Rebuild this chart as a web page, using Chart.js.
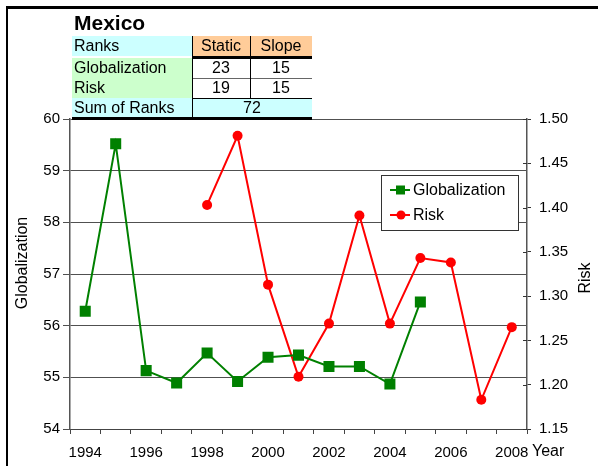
<!DOCTYPE html>
<html>
<head>
<meta charset="utf-8">
<script src="https://cdn.jsdelivr.net/npm/chart.js@4/dist/chart.umd.min.js"></script>
<style>
  html, body { margin: 0; padding: 0; background: #fff; }
  #wrap { position: relative; width: 598px; height: 466px; overflow: hidden; background: #fff;
          font-family: "Liberation Sans", Arial, sans-serif; }
  #c { position: absolute; left: 0; top: 0; }
  .cell { position: absolute; box-sizing: border-box; font-size: 16px; line-height: 20px; color: #000; white-space: nowrap; }
  .lbl { padding-left: 2px; }
  .num { text-align: center; }
  .line { position: absolute; background: #000; }
</style>
</head>
<body>
<div id="wrap">
  <canvas id="c" width="598" height="466"></canvas>
</div>
<script>
// ---- data ----
const country = 'Mexico';
const years = ['1994','1995','1996','1997','1998','1999','2000','2001','2002','2003','2004','2005','2006','2007','2008'];
const globalization = [56.28, 59.52, 55.13, 54.89, 55.47, 54.92, 55.39, 55.43, 55.21, 55.21, 54.87, 56.46, null, null, null];
const risk = [null, null, null, null, 1.403, 1.481, 1.313, 1.209, 1.269, 1.391, 1.269, 1.343, 1.338, 1.183, 1.265];
const leftTicks = [54, 55, 56, 57, 58, 59, 60];
const rightTicks = [1.15, 1.20, 1.25, 1.30, 1.35, 1.40, 1.45, 1.50];

// rank table
const rankHeader = ['Ranks', 'Static', 'Slope'];
const rankRows = [['Globalization', 23, 15], ['Risk', 19, 15]];
const sumLabel = 'Sum of Ranks';
const sumOfRanks = 72;

// ---- rank table and frame (HTML) ----
const wrap = document.getElementById('wrap');
function addCell(text, x, y, w, h, bg, cls, extra) {
  const d = document.createElement('div');
  d.className = 'cell ' + cls;
  d.style.left = x + 'px'; d.style.top = y + 'px';
  d.style.width = w + 'px'; d.style.height = h + 'px';
  d.style.background = bg;
  if (extra) Object.assign(d.style, extra);
  d.textContent = text;
  wrap.appendChild(d);
  return d;
}
function addLine(x, y, w, h, color) {
  const d = document.createElement('div');
  d.className = 'line';
  d.style.left = x + 'px'; d.style.top = y + 'px';
  d.style.width = w + 'px'; d.style.height = h + 'px';
  if (color) d.style.background = color;
  wrap.appendChild(d);
}
// outer frame
addLine(6, 6, 592, 3);
addLine(6, 6, 2, 460);

// title
addCell(country, 74, 10, 120, 26, 'transparent', '', { fontWeight: 'bold', fontSize: '21px', lineHeight: '26px' });

const colX = [72, 192, 250, 312];
const rowY = [36, 58, 78, 98, 118];
const cyan = '#ccffff', orange = '#ffcc99', green = '#ccffcc';
// header row
addCell(rankHeader[0], colX[0], rowY[0], colX[1] - colX[0], 20, cyan, 'lbl');
addCell(rankHeader[1], colX[1], rowY[0], colX[2] - colX[1], 20, orange, 'num');
addCell(rankHeader[2], colX[2], rowY[0], colX[3] - colX[2], 20, orange, 'num');
// value rows
rankRows.forEach((r, i) => {
  const y = rowY[i + 1], h = rowY[i + 2] - rowY[i + 1];
  addCell(r[0], colX[0], y, colX[1] - colX[0], h, green, 'lbl');
  addCell(String(r[1]), colX[1], y, colX[2] - colX[1], h, '#fff', 'num');
  addCell(String(r[2]), colX[2], y, colX[3] - colX[2], h, '#fff', 'num');
});
// sum row
addCell(sumLabel, colX[0], rowY[3], colX[1] - colX[0], rowY[4] - rowY[3], cyan, 'lbl');
addCell(String(sumOfRanks), colX[1], rowY[3], colX[3] - colX[1], rowY[4] - rowY[3], cyan, 'num');
// table rules
addLine(colX[1], rowY[1] - 2, colX[3] - colX[1], 3);          // under header
addLine(colX[1], rowY[2], colX[3] - colX[1], 1, '#666');       // between value rows
addLine(colX[1], rowY[3], colX[3] - colX[1], 1);               // above sum row
addLine(colX[1], rowY[0], 1, rowY[4] - rowY[0]);               // left of Static
addLine(colX[2], rowY[0], 1, rowY[3] - rowY[0]);               // between Static and Slope
addLine(colX[0], rowY[4] - 1, colX[3] - colX[0], 3);           // bottom of table

// ---- chart ----
const FONT = '"Liberation Sans", Arial, sans-serif';
Chart.defaults.font.family = FONT;
Chart.defaults.font.size = 15;
Chart.defaults.color = '#000';

const decor = {
  id: 'decor',
  afterDraw(chart) {
    const ctx = chart.ctx;
    const area = chart.chartArea;
    const y1 = chart.scales.y1;
    ctx.save();
    // inner half of the right-axis tick marks
    ctx.strokeStyle = '#333';
    ctx.lineWidth = 1;
    y1.ticks.forEach(t => {
      const py = Math.round(y1.getPixelForValue(t.value)) + 0.5;
      ctx.beginPath();
      ctx.moveTo(area.right - 4, py);
      ctx.lineTo(area.right, py);
      ctx.stroke();
    });

    // axis titles
    ctx.fillStyle = '#000';
    ctx.font = '16px ' + FONT;
    ctx.textAlign = 'center';
    ctx.textBaseline = 'middle';
    ctx.save();
    ctx.translate(23, 263);
    ctx.rotate(-Math.PI / 2);
    ctx.fillText(chart.options.scales.y.title.text, 0, 0);
    ctx.restore();
    ctx.save();
    ctx.translate(586, 278);
    ctx.rotate(-Math.PI / 2);
    ctx.fillText(chart.options.scales.y1.title.text, 0, 0);
    ctx.restore();
    ctx.textAlign = 'left';
    ctx.fillText(chart.options.scales.x.title.text, 532, 452);

    // legend box
    const bx = 381, by = 175, bw = 137, bh = 55;
    ctx.fillStyle = '#fff';
    ctx.fillRect(bx, by, bw, bh);
    ctx.strokeStyle = '#333';
    ctx.strokeRect(bx + 0.5, by + 0.5, bw, bh);
    chart.data.datasets.forEach((ds, i) => {
      const cy = 190 + i * 25;
      ctx.strokeStyle = ds.borderColor;
      ctx.lineWidth = 2;
      ctx.beginPath();
      ctx.moveTo(390, cy);
      ctx.lineTo(410, cy);
      ctx.stroke();
      ctx.fillStyle = ds.pointBackgroundColor;
      if (ds.pointStyle === 'rect') {
        ctx.fillRect(396, cy - 4.5, 9, 9);
      } else {
        ctx.beginPath();
        ctx.arc(401, cy, 4.5, 0, Math.PI * 2);
        ctx.fill();
      }
      ctx.fillStyle = '#000';
      ctx.font = '16px ' + FONT;
      ctx.textAlign = 'left';
      ctx.fillText(ds.label, 413, cy + 1);
    });
    ctx.restore();
  }
};

new Chart(document.getElementById('c'), {
  type: 'line',
  data: {
    labels: years,
    datasets: [
      {
        label: 'Globalization',
        data: globalization,
        yAxisID: 'y',
        borderColor: '#008000',
        backgroundColor: '#008000',
        pointBackgroundColor: '#008000',
        pointBorderColor: '#008000',
        pointStyle: 'rect',
        pointRadius: 7.8,
        pointBorderWidth: 0,
        borderWidth: 2,
        tension: 0,
        spanGaps: false
      },
      {
        label: 'Risk',
        data: risk,
        yAxisID: 'y1',
        borderColor: '#ff0000',
        backgroundColor: '#ff0000',
        pointBackgroundColor: '#ff0000',
        pointBorderColor: '#ff0000',
        pointStyle: 'circle',
        pointRadius: 5,
        pointBorderWidth: 0,
        borderWidth: 2,
        tension: 0,
        spanGaps: false
      }
    ]
  },
  options: {
    responsive: false,
    animation: false,
    events: [],
    layout: { padding: { top: 119, left: 0, right: 0, bottom: 0 } },
    plugins: { legend: { display: false }, tooltip: { enabled: false } },
    scales: {
      x: {
        type: 'category',
        offset: true,
        title: { display: false, text: 'Year' },
        grid: { offset: true, drawOnChartArea: false, drawTicks: true, tickLength: 5, color: '#444' },
        border: { display: true, color: '#444', width: 1 },
        ticks: {
          autoSkip: false, maxRotation: 0, padding: 10,
          callback: (v, i) => (i % 2 === 0 ? years[i] : '')
        },
        afterFit: s => { s.height = 37; }
      },
      y: {
        position: 'left',
        min: leftTicks[0], max: leftTicks[leftTicks.length - 1],
        title: { display: false, text: 'Globalization' },
        afterBuildTicks: s => { s.ticks = leftTicks.map(v => ({ value: v })); },
        ticks: { padding: 3, callback: v => String(v) },
        grid: { drawOnChartArea: true, drawTicks: true, tickLength: 7, color: '#505050' },
        border: { display: true, color: '#555', width: 1.5 },
        afterFit: s => { s.width = 70; }
      },
      y1: {
        position: 'right',
        min: rightTicks[0], max: rightTicks[rightTicks.length - 1],
        title: { display: false, text: 'Risk' },
        afterBuildTicks: s => { s.ticks = rightTicks.map(v => ({ value: v })); },
        ticks: { padding: 8, callback: v => Number(v).toFixed(2) },
        grid: { drawOnChartArea: false, drawTicks: true, tickLength: 4, color: '#333' },
        border: { display: true, color: '#555', width: 1.5 },
        afterFit: s => { s.width = 71; }
      }
    }
  },
  plugins: [decor]
});
</script>
</body>
</html>
